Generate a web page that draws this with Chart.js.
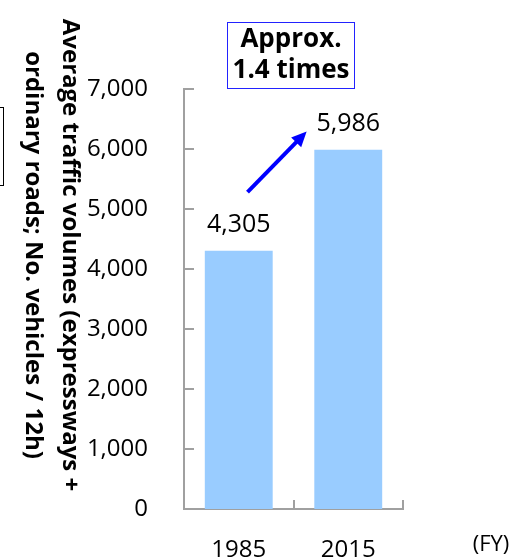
<!DOCTYPE html>
<html>
<head>
<meta charset="utf-8">
<script src="https://cdn.jsdelivr.net/npm/chart.js@4.4.1/dist/chart.umd.min.js"></script>
<style>
  html, body { margin: 0; padding: 0; background: #fff; }
  #wrap { width: 515px; height: 560px; position: relative; }
</style>
</head>
<body>
<div id="wrap"><canvas id="trafficChart"></canvas></div>
<script>
const YEARS = ['1985', '2015'];
const VOLUMES = [4305, 5986];
const Y_TICKS = [0, 1000, 2000, 3000, 4000, 5000, 6000, 7000];
const Y_TITLE = ['Average traffic volumes (expressways +', 'ordinary roads; No. vehicles / 12h)'];
const NOTE = ['Approx.', '1.4 times'];
const UNIT = '(FY)';

const FONT = "'Open Sans', 'Noto Sans', sans-serif";
const BAR_COLOR = '#99ccff';
const AXIS_COLOR = '#a0a0a0';

// ticks drawn inside the plot, axis title, labels, arrow and note box
const extras = {
    id: 'extras',
    afterDatasetsDraw(chart) {
        const ctx = chart.ctx;
        const area = chart.chartArea;
        const xs = chart.scales.x;
        const ys = chart.scales.y;

        ctx.save();
        ctx.strokeStyle = AXIS_COLOR;
        ctx.lineWidth = 2;
        ctx.beginPath();
        ys.ticks.forEach(t => {
            let py = Math.round(ys.getPixelForValue(t.value));
            ctx.moveTo(area.left, py);
            ctx.lineTo(area.left + 10, py);
        });
        for (let i = 0; i <= YEARS.length; i++) {
            let px = Math.round(xs.getPixelForValue(i - 0.5));
            ctx.moveTo(px, area.bottom);
            ctx.lineTo(px, area.bottom - 9);
        }
        ctx.stroke();

        // value labels above bars
        ctx.fillStyle = '#000';
        ctx.font = '25px ' + FONT;
        ctx.textAlign = 'center';
        ctx.textBaseline = 'middle';
        chart.getDatasetMeta(0).data.forEach((bar, i) => {
            ctx.fillText(VOLUMES[i].toLocaleString('en-US'), bar.x, bar.y - 26);
        });

        // arrow
        let x0 = xs.getPixelForValue(0.08), y0 = ys.getPixelForValue(5280);
        let x1 = xs.getPixelForValue(0.62), y1 = ys.getPixelForValue(6290);
        let ang = Math.atan2(y1 - y0, x1 - x0);
        let head = 15;
        ctx.strokeStyle = '#0000ff';
        ctx.fillStyle = '#0000ff';
        ctx.lineWidth = 4;
        ctx.beginPath();
        ctx.moveTo(x0, y0);
        ctx.lineTo(x1 - head * 0.8 * Math.cos(ang), y1 - head * 0.8 * Math.sin(ang));
        ctx.stroke();
        ctx.beginPath();
        ctx.moveTo(x1, y1);
        ctx.lineTo(x1 - head * Math.cos(ang) + 7 * Math.sin(ang), y1 - head * Math.sin(ang) - 7 * Math.cos(ang));
        ctx.lineTo(x1 - head * Math.cos(ang) - 7 * Math.sin(ang), y1 - head * Math.sin(ang) + 7 * Math.cos(ang));
        ctx.closePath();
        ctx.fill();

        // note box
        ctx.strokeStyle = '#2222ff';
        ctx.lineWidth = 1;
        ctx.strokeRect(227.5, 22.5, 127, 66);
        ctx.fillStyle = '#000';
        ctx.font = 'bold 26px ' + FONT;
        ctx.fillText(NOTE[0], 291, 40);
        ctx.fillText(NOTE[1], 291, 71);

        // unit label
        ctx.font = '22px ' + FONT;
        ctx.fillText(UNIT, 491, 545);

        // clipped box at the left edge
        ctx.strokeStyle = '#000';
        ctx.strokeRect(-20, 107.5, 23.5, 78);

        // y axis title, reading top to bottom
        ctx.translate(70, 255);
        ctx.rotate(Math.PI / 2);
        ctx.font = 'bold 24px ' + FONT;
        ctx.fillText(Y_TITLE[0], 0, 0);
        ctx.fillText(Y_TITLE[1], 0, 37);
        ctx.restore();
    }
};

const data = {
    labels: YEARS,
    datasets: [{
        data: VOLUMES,
        backgroundColor: BAR_COLOR,
        borderWidth: 0,
        barPercentage: 0.62,
        categoryPercentage: 1.0
    }]
};

const config = {
    type: 'bar',
    data: data,
    options: {
        responsive: true,
        maintainAspectRatio: false,
        animation: false,
        layout: {
            padding: { top: 89, right: 112, bottom: 0, left: 0 }
        },
        plugins: {
            legend: { display: false },
            tooltip: { enabled: false },
            title: { display: false }
        },
        scales: {
            x: {
                grid: { display: false, drawTicks: false },
                border: { display: true, color: AXIS_COLOR, width: 2 },
                ticks: {
                    color: '#000',
                    padding: 27,
                    font: { family: FONT, size: 24 }
                },
                afterFit: (s) => { s.height = 51; }
            },
            y: {
                min: 0,
                max: 7000,
                afterBuildTicks: (s) => { s.ticks = Y_TICKS.map(v => ({ value: v })); },
                grid: { display: false, drawTicks: false },
                border: { display: true, color: AXIS_COLOR, width: 2 },
                ticks: {
                    color: '#000',
                    padding: 36,
                    font: { family: FONT, size: 24 },
                    callback: (v) => v.toLocaleString('en-US')
                },
                afterFit: (s) => { s.width = 184; }
            }
        }
    },
    plugins: [extras]
};

new Chart(document.getElementById('trafficChart').getContext('2d'), config);
</script>
</body>
</html>
